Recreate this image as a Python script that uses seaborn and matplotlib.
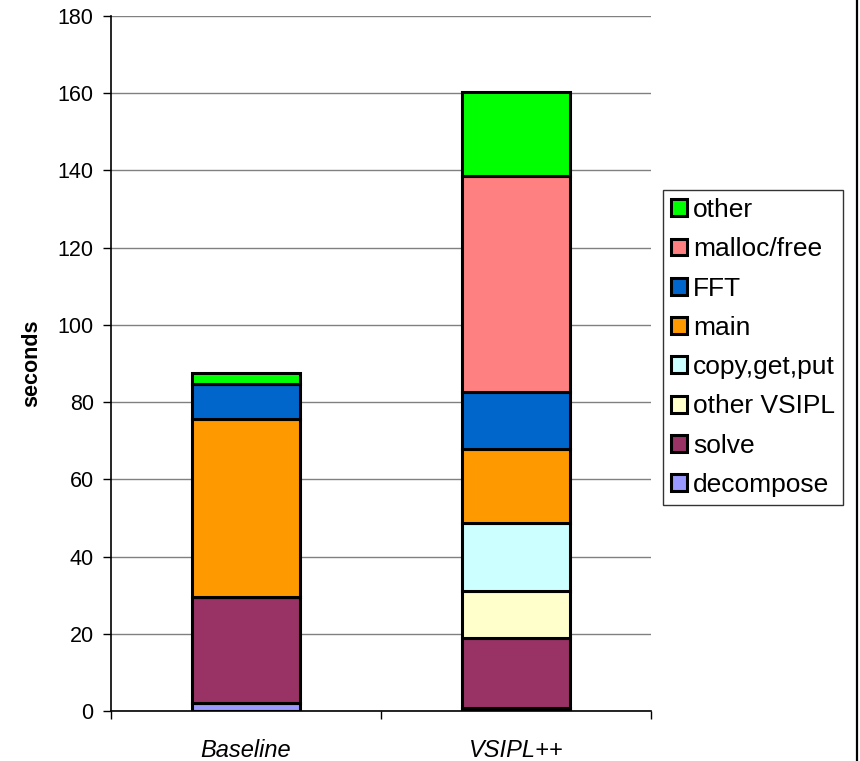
import matplotlib
matplotlib.use("Agg")
import matplotlib.pyplot as plt
import seaborn as sns
import numpy as np
from matplotlib.patches import Patch
from matplotlib.lines import Line2D

# ---- data ----
runs = ["Baseline", "VSIPL++"]
components = ["decompose", "solve", "other VSIPL", "copy,get,put", "main", "FFT", "malloc/free", "other"]
decompose = [2.0, 0.7]
solve = [27.5, 18.3]
other_vsipl = [0.0, 12.2]
copy_get_put = [0.0, 17.4]
main_part = [46.0, 19.2]
fft = [9.2, 14.7]
malloc_free = [0.0, 56.1]
other = [2.8, 21.8]
colors = ["#9999FF", "#993366", "#FFFFCC", "#CCFFFF", "#FF9900", "#0066CC", "#FF8080", "#00FF00"]
yticks = [0, 20, 40, 60, 80, 100, 120, 140, 160, 180]

series = [decompose, solve, other_vsipl, copy_get_put, main_part, fft, malloc_free, other]

sns.set_style("white")
plt.rcParams["font.family"] = ["Liberation Sans", "DejaVu Sans"]
plt.rcParams["text.color"] = "black"
plt.rcParams["axes.labelcolor"] = "black"
plt.rcParams["xtick.color"] = "black"
plt.rcParams["ytick.color"] = "black"

fig = plt.figure(figsize=(8.6, 7.61), dpi=100)
ax = fig.add_axes([111 / 860, 1 - 711 / 761, 540 / 860, 695 / 761])

bottom = np.zeros(len(runs))
for name, vals, col in zip(components, series, colors):
    vals = np.array(vals)
    sns.barplot(x=runs, y=vals, bottom=bottom, color=col, width=0.4, saturation=1,
                edgecolor="black", linewidth=2.2, ax=ax, zorder=3)
    bottom = bottom + vals

ax.set_xlim(-0.5, 1.5)
ax.set_ylim(0, 180)
ax.set_yticks(yticks)
ax.yaxis.grid(True, color="#808080", linewidth=1.0, zorder=0)
ax.set_axisbelow(True)
for s in ["top", "right"]:
    ax.spines[s].set_visible(False)
for s in ["left", "bottom"]:
    ax.spines[s].set_color("black")
    ax.spines[s].set_linewidth(1.2)
    ax.spines[s].set_zorder(4)

ax.tick_params(axis="y", direction="out", length=5.5, width=1, labelsize=15.5, pad=7, left=True)
ax.set_xticks([0, 1])
ax.set_xticklabels(runs, fontstyle="italic", fontsize=17)
ax.set_xticks([-0.5, 0.5, 1.5], minor=True)
ax.tick_params(axis="x", which="major", length=0, pad=20)
ax.tick_params(axis="x", which="minor", direction="out", length=6, width=1, bottom=True)
ax.set_xlabel("")
ax.set_ylabel("seconds", fontsize=15.5, fontweight="bold", labelpad=11)

handles = [Patch(facecolor=c, edgecolor="black", linewidth=2.2) for c in colors][::-1]
labels = components[::-1]
leg = fig.legend(handles, labels, loc="upper left", bbox_to_anchor=(663 / 860, 1 - 190 / 761),
                 prop={"size": 19}, frameon=True, fancybox=False, edgecolor="black",
                 handlelength=0.6, handleheight=0.6, handletextpad=0.25,
                 labelspacing=0.58, borderpad=0.3, borderaxespad=0)
leg.get_frame().set_linewidth(1.0)

fig.add_artist(Line2D([856.5 / 860, 856.5 / 860], [0.0, 1.0], color="black", linewidth=1.6,
                      transform=fig.transFigure))

fig.savefig("out.png", dpi=100)
